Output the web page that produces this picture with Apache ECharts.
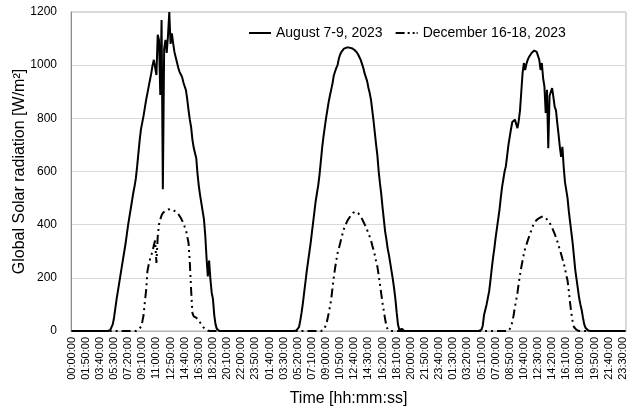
<!DOCTYPE html>
<html>
<head>
<meta charset="utf-8">
<script src="https://cdn.jsdelivr.net/npm/echarts@6/dist/echarts.min.js"></script>
<style>
html,body{margin:0;padding:0;background:#fff;}
#chart{width:628px;height:409px;}
</style>
</head>
<body>
<div id="chart"></div>
<script>
// ---- Data (10-minute samples, 3 days each) ----
const seriesNames = ["August 7-9, 2023", "December 16-18, 2023"];
const yTicks = [0, 200, 400, 600, 800, 1000, 1200];
const stepsPerDay = 144;

// values from first non-zero sample (index within day); other samples are 0
const augDay1Start = 30;
const augDay1 = [3,10,25,50,85,120,150,180,210,240,270,300,330,365,400,430,460,490,520,545,575,620,670,720,760,785,810,840,870,895,920,945,970,1000,1020,1020,963,1114,1095,888,1170,533,1060,1095,1046,1110,1200,1080,1120,1083,1050,1030,1010,990,975,965,955,935,920,905,870,830,795,767,720,690,670,650,590,545,510,480,450,420,360,275,205,265,195,145,120,60,25,8,2];
const augDay2Start = 31;
const augDay2 = [2,6,15,40,70,105,145,185,225,260,295,330,370,410,450,490,520,550,590,640,690,730,765,800,830,860,885,907,930,960,975,990,1000,1025,1040,1050,1057,1062,1065,1066,1066,1066,1065,1064,1062,1058,1053,1048,1040,1030,1020,1005,990,970,955,940,915,895,870,830,790,745,700,660,600,555,515,465,420,375,345,310,285,255,225,195,160,120,70,25,5,2,8,4];
const augDay3Start = 31;
const augDay3 = [5,20,60,80,100,125,150,190,235,275,310,350,385,420,455,500,540,570,600,620,660,700,730,760,786,790,795,801,763,790,830,900,970,1008,982,1005,1020,1031,1028,1046,1050,1055,1062,1050,1035,1020,982,1008,950,920,820,907,688,884,900,914,880,843,830,782,740,693,655,693,617,560,530,500,450,410,370,330,280,230,195,160,125,100,79,50,25,12,5,2];

const decDay1Start = 51;
const decDay1 = [2,5,10,16,35,60,110,154,225,250,270,285,300,323,340,256,355,400,420,435,444,450,453,455,457,459,459,458,455,452,449,445,440,433,425,415,405,392,380,355,331,256,154,68,55,52,50,48,40,32,25,17,11,6,3,1];
const decDay2Start = 52;
const decDay2 = [3,10,22,41,65,90,117,160,200,235,265,293,310,330,350,368,385,397,408,418,425,432,438,444,447,449,448,444,438,430,422,412,402,392,380,368,355,342,322,305,285,262,242,210,175,140,105,75,45,18,6,1];
const decDay3Start = 53;
const decDay3 = [4,15,35,58,90,115,143,180,210,240,265,290,310,325,340,354,368,382,395,406,413,418,422,425,428,430,431,430,426,420,415,408,398,388,377,365,352,338,322,305,290,272,256,235,210,190,150,105,65,35,15,8,4,2];

// ---- build ----
function placeDay(start, vals) {
  const a = new Array(stepsPerDay).fill(0);
  vals.forEach((v, k) => { a[start + k] = v; });
  return a;
}
const august = [].concat(placeDay(augDay1Start, augDay1), placeDay(augDay2Start, augDay2), placeDay(augDay3Start, augDay3));
const december = [].concat(placeDay(decDay1Start, decDay1), placeDay(decDay2Start, decDay2), placeDay(decDay3Start, decDay3));

const pad = n => (n < 10 ? "0" : "") + n;
const categories = [];
for (let d = 0; d < 3; d++) {
  for (let s = 0; s < stepsPerDay; s++) {
    const m = s * 10;
    categories.push(pad(Math.floor(m / 60)) + ":" + pad(m % 60) + ":00");
  }
}

const font = '"Liberation Sans", Arial, sans-serif';
const solidIcon = 'path://M0,0H22V2H0Z';
const dashDotIcon = 'path://M0,0H9V2H0Z M12,0H14V2H12Z M17,0H19V2H17Z M21,0H22V2H21Z';
const chart = echarts.init(document.getElementById('chart'), null, {renderer: 'canvas'});
chart.setOption({
  animation: false,
  backgroundColor: '#fff',
  grid: {left: 71, right: 2, top: 12, bottom: 78, show: true, borderColor: '#b3b3b3', borderWidth: 1,
         containLabel: false, outerBoundsMode: 'none'},
  legend: {
    left: 244, top: 21, itemWidth: 22, itemHeight: 2, itemGap: 13,
    textStyle: {fontFamily: font, fontSize: 14, color: '#000'},
    data: [
      {name: seriesNames[0], icon: solidIcon, itemStyle: {color: '#000'}},
      {name: seriesNames[1], icon: dashDotIcon, itemStyle: {color: '#000'}}
    ]
  },
  xAxis: {
    type: 'category', data: categories, boundaryGap: true,
    name: 'Time [hh:mm:ss]', nameLocation: 'middle', nameGap: 60, nameMoveOverlap: false,
    nameTextStyle: {fontFamily: font, fontSize: 16, color: '#000'},
    axisLine: {show: true, lineStyle: {color: '#b3b3b3'}},
    axisTick: {show: false},
    axisLabel: {interval: 10, rotate: 90, fontFamily: font, fontSize: 11, color: '#000', margin: 6},
    splitLine: {show: false}
  },
  yAxis: {
    type: 'value', min: yTicks[0], max: yTicks[yTicks.length - 1], interval: 200,
    name: 'Global Solar radiation [W/m²]', nameLocation: 'middle', nameGap: 43, nameMoveOverlap: false,
    nameTextStyle: {fontFamily: font, fontSize: 16, color: '#000'},
    axisLine: {show: true, lineStyle: {color: '#8c8c8c'}},
    axisTick: {show: false},
    axisLabel: {fontFamily: font, fontSize: 12, color: '#000', margin: 14, formatter: v => String(v)},
    splitLine: {lineStyle: {color: '#d9d9d9', width: 1}}
  },
  series: [
    {name: seriesNames[0], type: 'line', data: august, symbol: 'none', smooth: false,
     lineStyle: {color: '#000', width: 2}, itemStyle: {color: '#000'}},
    {name: seriesNames[1], type: 'line', data: december, symbol: 'none', smooth: false,
     lineStyle: {color: '#000', width: 2, type: [9, 4, 2, 4, 2, 4]}, itemStyle: {color: '#000'}}
  ]
});
</script>
</body>
</html>
